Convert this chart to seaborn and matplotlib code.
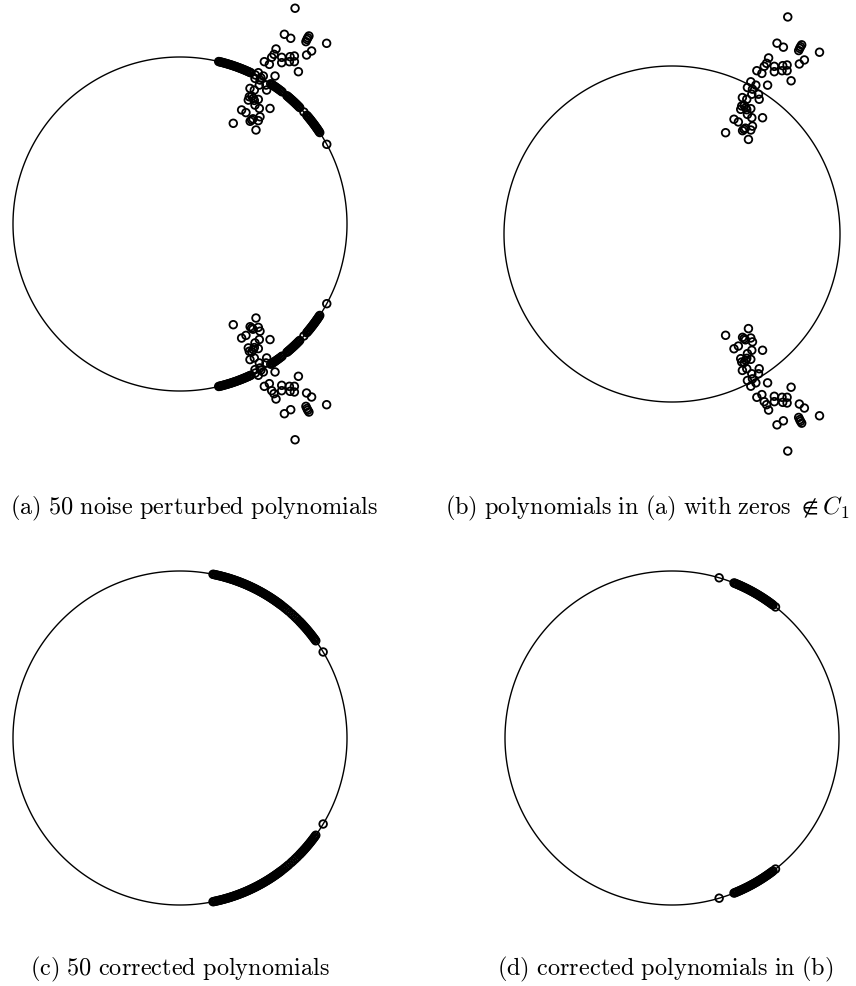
import numpy as np
import pandas as pd
import matplotlib
matplotlib.use("Agg")
import matplotlib.pyplot as plt
import seaborn as sns

sns.set_theme(style="white")
plt.rcParams["mathtext.fontset"] = "cm"
plt.rcParams["path.simplify"] = False

# Angles (degrees, upper half) of zeros that stay on the unit circle C1;
# the lower half is the complex conjugate set.
arc_a_deg = [76.6, 76.2, 75.7, 75.3, 74.8, 74.4, 73.9, 73.5, 73.0, 72.6, 72.1, 71.7,
             71.2, 70.8, 70.3, 69.9, 69.4, 69.0, 68.5, 68.1, 67.6, 67.2, 66.7, 66.3,
             65.8, 65.4, 64.9, 63.2, 61.0, 57.1, 56.6, 56.2, 55.7, 55.3, 54.8, 54.4,
             53.9, 53.4, 52.8, 52.3, 50.2, 49.7, 49.3, 48.8, 48.4, 47.9, 47.5, 47.0,
             46.6, 46.1, 45.7, 45.2, 44.7, 44.2, 42.1, 40.6, 40.1, 39.6, 39.2, 38.7,
             38.3, 37.8, 37.3, 36.9, 36.4, 36.0, 35.5, 35.1, 34.6, 34.2, 33.7, 33.2,
             28.5]
arc_c_deg = [78.6, 78.2, 77.7, 77.3, 76.8, 76.4, 75.9, 75.5, 75.0, 74.6, 74.1, 73.7,
             73.2, 72.8, 72.3, 71.9, 71.4, 71.0, 70.5, 70.1, 69.6, 69.2, 68.7, 68.3,
             67.8, 67.4, 66.9, 66.5, 66.0, 65.6, 65.1, 64.7, 64.2, 63.8, 63.3, 62.9,
             62.4, 62.0, 61.5, 61.1, 60.6, 60.2, 59.7, 59.3, 58.8, 58.4, 57.9, 57.5,
             57.0, 56.6, 56.1, 55.7, 55.2, 54.8, 54.3, 53.9, 53.4, 53.0, 52.4, 51.6,
             50.9, 50.1, 49.4, 48.3, 47.5, 46.6, 45.9, 45.2, 44.4, 43.9, 43.3, 42.8,
             42.2, 41.7, 41.1, 40.6, 40.0, 39.5, 38.9, 38.4, 37.8, 37.3, 36.7, 36.2,
             35.6, 31.0]
arc_d_deg = [73.6, 68.2, 67.8, 67.3, 66.9, 66.4, 66.0, 65.5, 65.1, 64.6, 64.2, 63.7,
             63.3, 62.8, 62.4, 61.9, 61.5, 61.0, 60.6, 60.1, 59.7, 59.2, 58.8, 58.3,
             57.9, 57.4, 57.0, 56.5, 56.1, 55.6, 55.2, 54.7, 54.3, 53.8, 53.3, 52.8,
             51.7]

# Zeros pushed off the circle by the noise (upper half-plane, re / im)
off_re = [0.689, 0.625, 0.663, 0.772, 0.765, 0.760, 0.754, 0.878, 0.788, 0.758,
          0.575, 0.563, 0.609, 0.659, 0.685, 0.655, 0.685, 0.609, 0.505, 0.535,
          0.549, 0.709, 0.569, 0.469, 0.449, 0.479, 0.499, 0.515, 0.475, 0.519,
          0.419, 0.445, 0.415, 0.439, 0.430, 0.445, 0.409, 0.469, 0.449, 0.475,
          0.539, 0.369, 0.395, 0.479, 0.429, 0.420, 0.437, 0.469, 0.319, 0.455]
off_im = [1.292, 1.136, 1.112, 1.126, 1.115, 1.105, 1.092, 1.082, 1.036, 1.012,
          1.048, 1.016, 0.998, 1.002, 1.006, 0.972, 0.972, 0.966, 0.972, 0.956,
          0.998, 0.912, 0.886, 0.906, 0.872, 0.862, 0.886, 0.832, 0.832, 0.802,
          0.812, 0.802, 0.762, 0.752, 0.765, 0.740, 0.742, 0.746, 0.712, 0.692,
          0.692, 0.683, 0.667, 0.642, 0.623, 0.615, 0.630, 0.619, 0.603, 0.563]

captions = [
    r"$\mathrm{(a)\ 50\ noise\ perturbed\ polynomials}$",
    r"$\mathrm{(b)\ polynomials\ in\ (a)\ with\ zeros\ } \notin C_1$",
    r"$\mathrm{(c)\ 50\ corrected\ polynomials}$",
    r"$\mathrm{(d)\ corrected\ polynomials\ in\ (b)}$",
]

W, H = 856, 986


def conj_pairs(re, im):
    re = np.asarray(re, float)
    im = np.asarray(im, float)
    return pd.DataFrame({"re": np.concatenate([re, re]),
                         "im": np.concatenate([im, -im])})


def on_circle(deg):
    th = np.deg2rad(np.asarray(deg, float))
    return conj_pairs(np.cos(th), np.sin(th))


def make_axes(fig, rect, center, r):
    x0, y0, w, h = rect
    cx, cy = center
    ax = fig.add_axes([x0 / W, 1 - (y0 + h) / H, w / W, h / H])
    ax.set_xlim((x0 - cx) / r, (x0 + w - cx) / r)
    ax.set_ylim((cy - (y0 + h)) / r, (cy - y0) / r)
    ax.set_axis_off()
    return ax


def draw_panel(ax, df):
    # unit circle C1, started at 60 degrees so the seam sits under the zero arcs
    t = np.linspace(np.pi / 3, np.pi / 3 + 2 * np.pi, 1441)
    sns.lineplot(x=np.cos(t), y=np.sin(t), sort=False, estimator=None,
                 color="black", linewidth=1.0, solid_capstyle="butt",
                 solid_joinstyle="round", ax=ax)
    if len(df):
        sns.scatterplot(data=df, x="re", y="im", ax=ax, marker="o", s=30,
                        facecolor="none", edgecolor="black", linewidth=1.3,
                        legend=False, clip_on=False, zorder=3)


fig = plt.figure(figsize=(W / 100, H / 100), dpi=100)
fig.patch.set_facecolor("white")

cloud = conj_pairs(off_re, off_im)

ax_a = make_axes(fig, (0, 0, 430, 470), (180, 224), 167)
draw_panel(ax_a, pd.concat([on_circle(arc_a_deg), cloud], ignore_index=True))

ax_b = make_axes(fig, (430, 0, 426, 470), (672, 234), 168)
draw_panel(ax_b, cloud)

ax_c = make_axes(fig, (0, 500, 430, 440), (180, 738), 167)
draw_panel(ax_c, on_circle(arc_c_deg))

ax_d = make_axes(fig, (430, 500, 426, 440), (672, 738), 167)
draw_panel(ax_d, on_circle(arc_d_deg))

cap_specs = [(194, 514, "center"), (445, 514, "left"),
             (180, 975, "center"), (665, 975, "center")]
for (px, py, ha), txt in zip(cap_specs, captions):
    fig.text(px / W, 1 - py / H, txt, ha=ha, va="baseline",
             fontsize=17.5, color="black")

fig.savefig("out.png", dpi=100, facecolor="white")
